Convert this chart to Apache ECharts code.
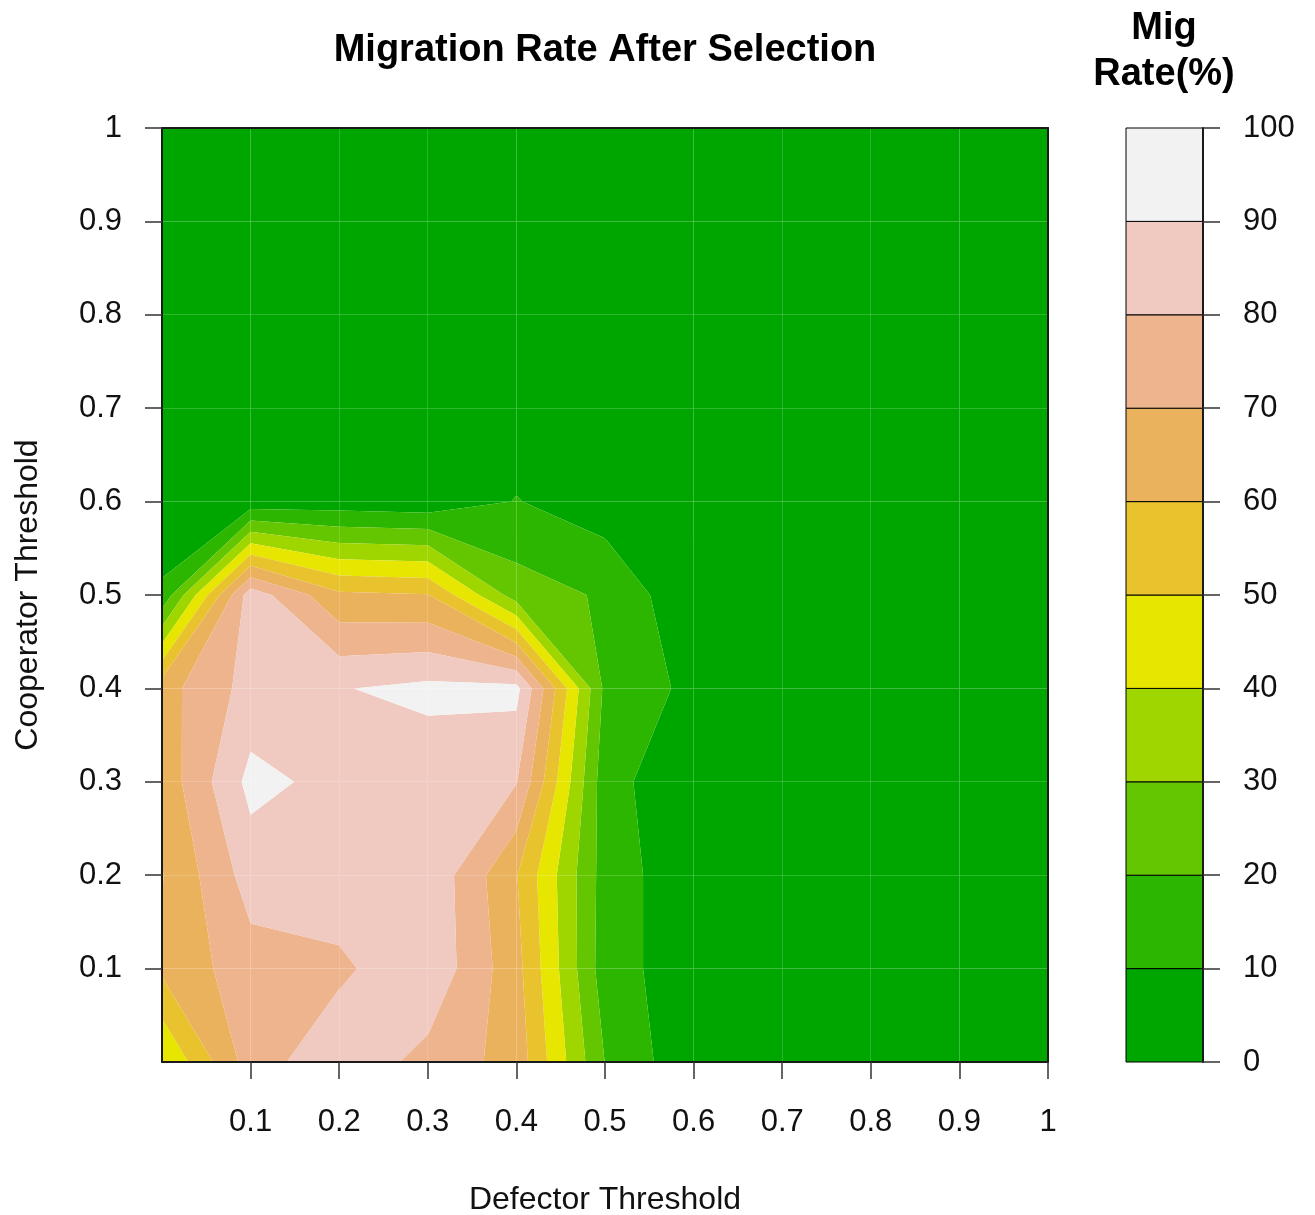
<!DOCTYPE html>
<html>
<head>
<meta charset="utf-8">
<script src="https://cdn.jsdelivr.net/npm/echarts@6/dist/echarts.min.js"></script>
<style>
html,body{margin:0;padding:0;background:#ffffff;}
#chart{width:1315px;height:1215px;}
</style>
</head>
<body>
<div id="chart"></div>
<script>
// ---- grid coordinates ----
const xValues = [0, 0.1, 0.2, 0.3, 0.4, 0.5, 0.6, 0.7, 0.8, 0.9, 1.0];
const yValues = [0, 0.1, 0.2, 0.3, 0.4, 0.5, 0.6, 0.7, 0.8, 0.9, 1.0];

// ---- migration rate (%) rows, one per cooperator threshold (y), columns = defector threshold (x) ----
const zRowY00 = [39.5, 75.0, 87.2, 76.8, 66.0, 19.8, 2.0, 1.5, 1.0, 1.0, 1.0];
const zRowY01 = [62.0, 75.8, 78.0, 88.0, 63.4, 14.6, 3.9, 2.0, 1.0, 1.0, 1.0];
const zRowY02 = [59.5, 84.5, 86.0, 88.2, 60.5, 15.5, 2.7, 2.0, 1.0, 1.0, 1.0];
const zRowY03 = [63.4, 93.0, 86.9, 84.0, 80.5, 14.0, 1.5, 1.5, 1.0, 1.0, 1.0];
const zRowY04 = [66.0, 83.7, 89.5, 92.5, 93.0, 17.7, 7.4, 2.0, 1.0, 1.0, 1.0];
const zRowY05 = [12.0, 85.7, 62.0, 60.5, 25.0, 18.7, 1.6, 1.5, 1.0, 1.0, 1.0];
const zRowY06 = [1.0, 3.4, 4.5, 3.2, 10.4, 4.4, 1.5, 1.0, 1.0, 1.0, 1.0];
const zRowY07 = [1.0, 1.5, 2.0, 2.0, 4.5, 2.5, 1.5, 1.0, 1.0, 1.0, 1.0];
const zRowY08 = [1.0, 1.0, 1.0, 1.0, 1.5, 1.0, 1.0, 1.0, 1.0, 1.0, 1.0];
const zRowY09 = [1.0, 1.0, 1.0, 1.0, 1.0, 1.0, 1.0, 1.0, 1.0, 1.0, 1.0];
const zRowY10 = [1.0, 1.0, 1.0, 1.0, 1.0, 1.0, 1.0, 1.0, 1.0, 1.0, 1.0];
const zRows = [zRowY00, zRowY01, zRowY02, zRowY03, zRowY04, zRowY05, zRowY06, zRowY07, zRowY08, zRowY09, zRowY10];

// ---- contour levels and colours ----
const levels = [0, 10, 20, 30, 40, 50, 60, 70, 80, 90, 100];
const bandColors = ['#00A600', '#2DB600', '#63C600', '#A0D600', '#E6E600',
                    '#E8C32E', '#EBB25E', '#EDB48E', '#F0C9C0', '#F2F2F2'];

// ---- axis tick labels ----
const xTickValues = [0.1, 0.2, 0.3, 0.4, 0.5, 0.6, 0.7, 0.8, 0.9, 1];
const yTickValues = [0.1, 0.2, 0.3, 0.4, 0.5, 0.6, 0.7, 0.8, 0.9, 1];

// build one data item per grid cell: [x0, x1, y0, y1, zBL, zBR, zTR, zTL]
const cellData = [];
for (let j = 0; j < yValues.length - 1; j++) {
  for (let i = 0; i < xValues.length - 1; i++) {
    cellData.push([xValues[i], xValues[i + 1], yValues[j], yValues[j + 1],
      zRows[j][i], zRows[j][i + 1], zRows[j + 1][i + 1], zRows[j + 1][i]]);
  }
}
const barData = [];
for (let k = 0; k < levels.length - 1; k++) barData.push([levels[k], levels[k + 1], k]);

function clipPoly(poly, lvl, keepAbove) {
  const out = [];
  const n = poly.length;
  for (let k = 0; k < n; k++) {
    const a = poly[k], b = poly[(k + 1) % n];
    const ain = keepAbove ? a.v >= lvl : a.v <= lvl;
    const bin = keepAbove ? b.v >= lvl : b.v <= lvl;
    if (ain) out.push(a);
    if (ain !== bin) {
      const t = (lvl - a.v) / (b.v - a.v);
      out.push({ x: a.x + t * (b.x - a.x), y: a.y + t * (b.y - a.y), v: lvl });
    }
  }
  return out;
}

function renderCell(params, api) {
  const x0 = api.value(0), x1 = api.value(1), y0 = api.value(2), y1 = api.value(3);
  const corners = [
    { x: x0, y: y0, v: api.value(4) },
    { x: x1, y: y0, v: api.value(5) },
    { x: x1, y: y1, v: api.value(6) },
    { x: x0, y: y1, v: api.value(7) }
  ];
  const children = [];
  for (let b = 0; b < bandColors.length; b++) {
    let p = clipPoly(corners, levels[b], true);
    if (p.length < 3) continue;
    p = clipPoly(p, levels[b + 1], false);
    if (p.length < 3) continue;
    children.push({
      type: 'polygon',
      silent: true,
      shape: { points: p.map(q => api.coord([q.x, q.y])) },
      style: { fill: bandColors[b] }
    });
  }
  return { type: 'group', children: children };
}

function renderBand(params, api) {
  const a = api.coord([0, api.value(0)]);
  const b = api.coord([1, api.value(1)]);
  return {
    type: 'rect',
    shape: { x: a[0], y: b[1], width: b[0] - a[0], height: a[1] - b[1] },
    style: { fill: bandColors[api.value(2)], stroke: '#000', lineWidth: 1 }
  };
}

const FONT = 'Liberation Sans, Arial, Helvetica, sans-serif';
const fmt = v => String(+(+v).toFixed(1));

const chart = echarts.init(document.getElementById('chart'), null, { renderer: 'canvas' });
chart.setOption({
  animation: false,
  backgroundColor: '#ffffff',
  textStyle: { fontFamily: FONT },
  title: [
    { text: 'Migration Rate After Selection', left: 600, top: 27, textAlign: 'center',
      textStyle: { fontSize: 38, fontWeight: 'bold', color: '#000', fontFamily: FONT } },
    { text: 'Mig\nRate(%)', left: 1159, top: 1, textAlign: 'center',
      textStyle: { fontSize: 38, fontWeight: 'bold', color: '#000', lineHeight: 46, fontFamily: FONT } }
  ],
  grid: [
    { left: 162, top: 128, width: 886, height: 934, containLabel: false, outerBoundsMode: 'none' },
    { left: 1126, top: 128, width: 77, height: 934, containLabel: false, outerBoundsMode: 'none' }
  ],
  xAxis: [
    { type: 'value', gridIndex: 0, min: 0, max: 1, interval: 0.1, position: 'bottom', z: 5,
      axisLine: { show: true, onZero: false, lineStyle: { color: '#1a1a1a', width: 2 } },
      axisTick: { show: true, length: 17, customValues: xTickValues, lineStyle: { color: '#333', width: 1.5 } },
      axisLabel: { show: true, fontSize: 31, color: '#111', margin: 45, customValues: xTickValues, formatter: fmt },
      splitLine: { show: false },
      name: 'Defector Threshold', nameLocation: 'middle', nameGap: 122,
      nameTextStyle: { fontSize: 32, color: '#111' } },
    { type: 'value', gridIndex: 0, min: 0, max: 1, position: 'top', z: 5,
      axisLine: { show: true, onZero: false, lineStyle: { color: '#1a1a1a', width: 2 } },
      axisTick: { show: false }, axisLabel: { show: false }, splitLine: { show: false } },
    { type: 'value', gridIndex: 1, min: 0, max: 1, show: false }
  ],
  yAxis: [
    { type: 'value', gridIndex: 0, min: 0, max: 1, interval: 0.1, position: 'left', z: 5,
      axisLine: { show: true, onZero: false, lineStyle: { color: '#1a1a1a', width: 2 } },
      axisTick: { show: true, length: 17, customValues: yTickValues, lineStyle: { color: '#333', width: 1.5 } },
      axisLabel: { show: true, fontSize: 31, color: '#111', margin: 40, customValues: yTickValues, formatter: fmt },
      splitLine: { show: false },
      name: 'Cooperator Threshold', nameLocation: 'middle', nameGap: 118,
      nameTextStyle: { fontSize: 32, color: '#111' } },
    { type: 'value', gridIndex: 0, min: 0, max: 1, position: 'right', z: 5,
      axisLine: { show: true, onZero: false, lineStyle: { color: '#1a1a1a', width: 2 } },
      axisTick: { show: false }, axisLabel: { show: false }, splitLine: { show: false } },
    { type: 'value', gridIndex: 1, min: 0, max: 100, interval: 10, position: 'right', z: 5,
      axisLine: { show: true, onZero: false, lineStyle: { color: '#1a1a1a', width: 2 } },
      axisTick: { show: true, length: 17, lineStyle: { color: '#333', width: 1.5 } },
      axisLabel: { show: true, fontSize: 31, color: '#111', margin: 40 },
      splitLine: { show: false } }
  ],
  series: [
    { type: 'custom', name: 'Mig Rate', xAxisIndex: 0, yAxisIndex: 0, clip: true, z: 2,
      renderItem: renderCell, encode: { x: [0, 1], y: [2, 3] }, data: cellData },
    { type: 'custom', name: 'Legend', xAxisIndex: 2, yAxisIndex: 2, z: 2,
      renderItem: renderBand, encode: { y: [0, 1] }, data: barData }
  ]
});
</script>
</body>
</html>
